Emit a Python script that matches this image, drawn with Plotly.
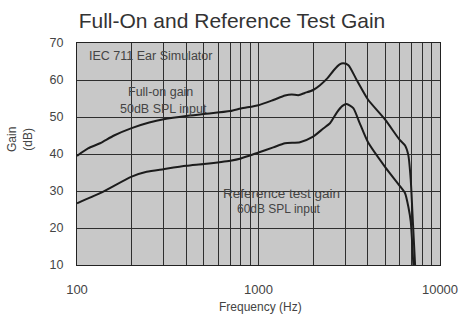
import plotly.graph_objects as go

# Full-on gain (50 dB SPL input)
full_freq = [100, 115, 134, 160, 200, 250, 300, 400, 500, 700, 800, 1000, 1207, 1400, 1524,
             1657, 1800, 2000, 2182, 2400, 2585, 2800, 2930, 3130, 3475, 4000, 5000, 6000,
             6420, 6690, 6900, 7050, 7290]
full_gain = [39.5, 41.5, 42.9, 45.0, 47.0, 48.5, 49.4, 50.3, 50.8, 51.6, 52.3, 53.2, 54.6, 55.8,
             56.1, 55.9, 56.5, 57.3, 58.6, 60.5, 62.5, 64.2, 64.5, 64.0, 60.0, 54.8, 49.2, 43.8,
             42.3, 39.7, 33.0, 24.0, 10.0]

# Reference test gain (60 dB SPL input)
ref_freq = [100, 134, 200, 242, 300, 400, 500, 700, 800, 1000, 1207, 1400, 1693, 2000, 2275,
            2477, 2700, 2900, 3060, 3329, 3600, 4000, 5000, 6000, 6420, 6690, 6900, 7130]
ref_gain = [26.7, 29.4, 33.9, 35.2, 35.9, 36.8, 37.3, 38.2, 38.8, 40.4, 41.8, 42.9, 43.2, 44.7,
            46.9, 48.3, 51.2, 53.0, 53.5, 52.4, 48.5, 43.3, 36.4, 31.4, 29.4, 25.8, 21.7, 10.0]

x_major = [100, 1000, 10000]
x_major_text = ["100", "1000", "10000"]
x_minor = [200, 300, 400, 500, 600, 700, 800, 900,
           2000, 3000, 4000, 5000, 6000, 7000, 8000, 9000]
y_ticks = [10, 20, 30, 40, 50, 60, 70]

line_col = "#1c1c1c"
text_col = "#444444"
grid_col = "#2e2e2e"

W, H = 462, 321
PL, PR, PT, PB = 77, 440, 43, 265  # plot area in page pixels

fig = go.Figure()
fig.add_trace(go.Scatter(x=full_freq, y=full_gain, mode="lines",
                         line=dict(color=line_col, width=2, shape="spline", smoothing=0.6),
                         showlegend=False, hoverinfo="skip"))
fig.add_trace(go.Scatter(x=ref_freq, y=ref_gain, mode="lines",
                         line=dict(color=line_col, width=2, shape="spline", smoothing=0.6),
                         showlegend=False, hoverinfo="skip"))

font = "Liberation Sans, Arial, sans-serif"

fig.update_layout(
    width=W, height=H,
    margin=dict(l=PL, r=W - PR, t=PT, b=H - PB, autoexpand=False),
    paper_bgcolor="white",
    plot_bgcolor="#c8c8c8",
    font=dict(family=font, color=text_col, size=12),
    title=dict(text="Full-On and Reference Test Gain", font=dict(size=21, color="#333333"),
               x=232 / W, xanchor="center", xref="container",
               y=1 - 21 / H, yanchor="middle", yref="container"),
    xaxis=dict(type="log", range=[2, 4], tickvals=x_major, ticktext=x_major_text,
               showgrid=True, gridcolor=grid_col, gridwidth=1,
               minor=dict(tickvals=x_minor, showgrid=True, gridcolor=grid_col, gridwidth=1),
               showline=True, linecolor="#222222", linewidth=1.2, mirror=True,
               ticks="", ticklabelstandoff=12, tickfont=dict(size=13, color=text_col), zeroline=False),
    yaxis=dict(range=[10, 70], tickvals=y_ticks, showgrid=True, gridcolor=grid_col, gridwidth=1,
               showline=True, linecolor="#222222", linewidth=1.2, mirror=True,
               ticks="", ticklabelstandoff=10, tickfont=dict(size=12.5, color=text_col), zeroline=False),
)

pw, ph = PR - PL, PB - PT
anns = [
    dict(text="IEC 711 Ear Simulator", x=150.5, y=56, size=12.5),
    dict(text="Full-on gain", x=160, y=92, size=12.5),
    dict(text="50dB SPL input", x=163, y=108.5, size=12.5),
    dict(text="Reference test gain", x=281, y=193, size=13.5),
    dict(text="60dB SPL input", x=279, y=208.5, size=12),
    dict(text="Frequency (Hz)", x=260, y=306.5, size=12),
]
for a in anns:
    fig.add_annotation(text=a["text"], x=(a["x"] - PL) / pw, y=(PB - a["y"]) / ph,
                       xref="paper", yref="paper",
                       showarrow=False, xanchor="center", yanchor="middle",
                       font=dict(size=a["size"], color=text_col, family=font))

fig.add_annotation(text="Gain<br>(dB)", x=(20 - PL) / pw, y=(PB - 140) / ph,
                   xref="paper", yref="paper", showarrow=False, textangle=-90,
                   xanchor="center", yanchor="middle",
                   font=dict(size=12, color=text_col, family=font))

fig.write_html("out.html", config={"displayModeBar": False},
               post_script="document.body.style.margin='0';document.body.style.overflow='hidden';")
